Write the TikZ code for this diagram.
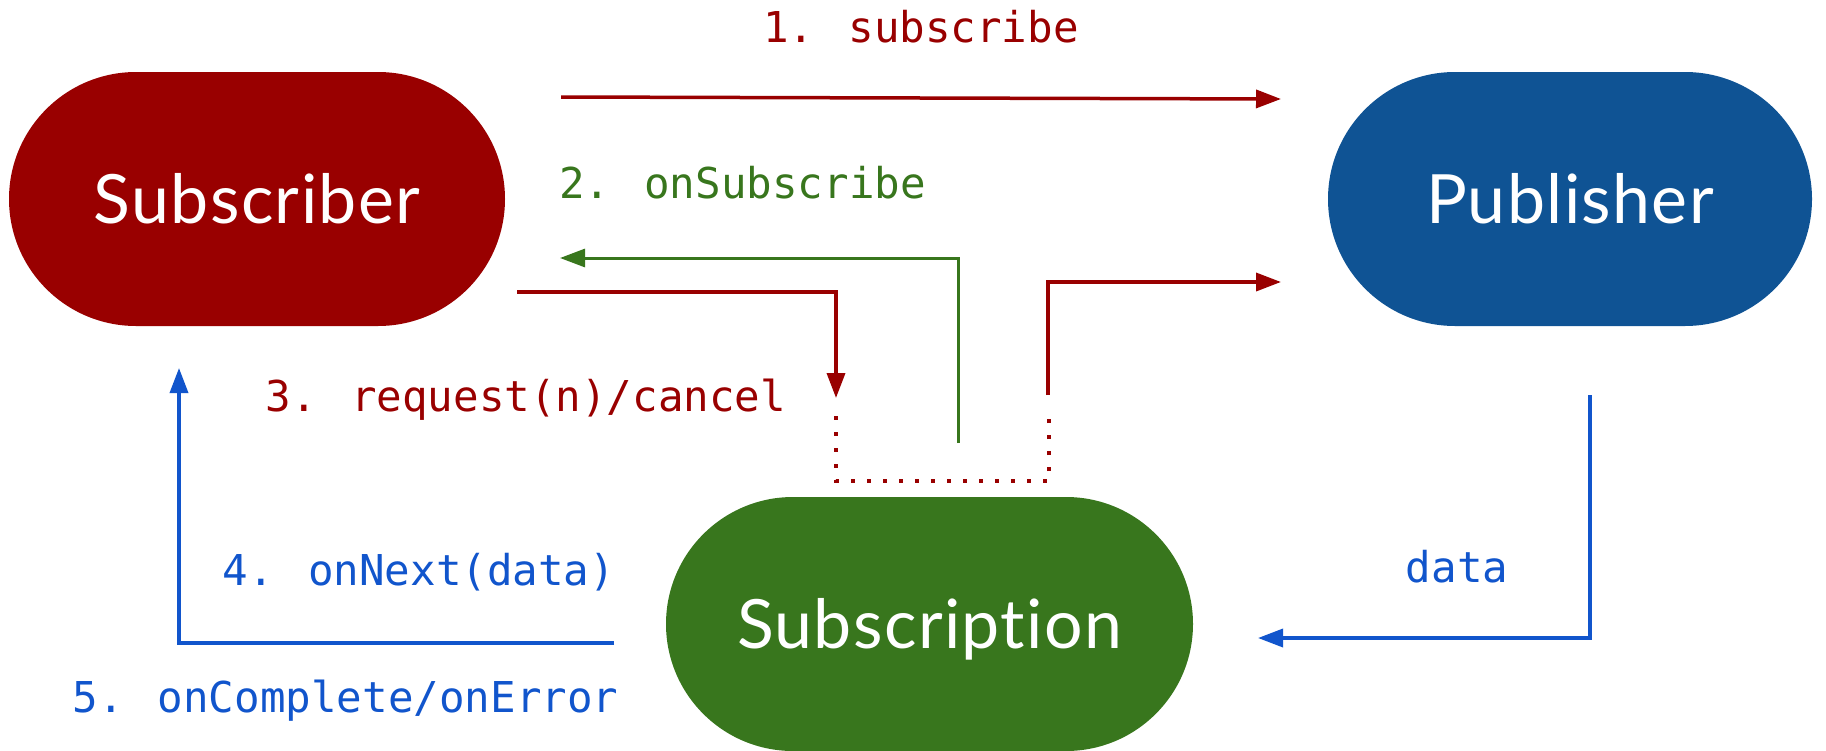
\documentclass[tikz,border=0pt]{standalone}
\usepackage{fontspec}
\setmainfont{Lato}[Ligatures={NoCommon,NoRequired,NoContextual}, LetterSpace=2]
\newfontfamily\codefont{DejaVu Sans Mono}
\usetikzlibrary{shapes.misc,arrows.meta}
\definecolor{subred}{HTML}{990000}
\definecolor{pubblue}{HTML}{0F5394}
\definecolor{subgreen}{HTML}{38761D}
\definecolor{flowblue}{HTML}{1155CC}
\tikzset{
  actor/.style={rounded rectangle, inner sep=0pt, minimum height=254pt,
    text=white, font=\fontsize{68}{72}\selectfont, text height=48pt, text depth=0pt},
  flow/.style={line width=3.5pt, -{Triangle[length=25pt,width=18pt]}},
  dotline/.style={line width=4pt, dash pattern=on 4pt off 12pt},
  caption/.style={font=\codefont\fontsize{42.5}{48}\selectfont, anchor=base, inner sep=0pt},
}
\begin{document}
\begin{tikzpicture}[x=1pt,y=-1pt]
\useasboundingbox (0,0) rectangle (1826,750);

% the three actors
\node[actor, fill=subred,   minimum width=496pt] (sub)  at (257,199)   {Subscriber};
\node[actor, fill=pubblue,  minimum width=484pt] (pub)  at (1570,199)  {Publisher};
\node[actor, fill=subgreen, minimum width=527pt] (subs) at (929.5,624) {Subscription};

% connector end points
\coordinate (s1a) at (561,97);    \coordinate (s1b) at (1281,99);
\coordinate (s2a) at (958,443);   \coordinate (s2k) at (958,258);   \coordinate (s2b) at (560,258);
\coordinate (s3a) at (517,292);   \coordinate (s3k) at (836,292);   \coordinate (s3b) at (836,398);
\coordinate (d1) at (836,416);    \coordinate (d2) at (836,481);
\coordinate (d3) at (1049,481);   \coordinate (d4) at (1049,414);
\coordinate (s3c) at (1048,395);  \coordinate (s3m) at (1048,282);  \coordinate (s3d) at (1281,282);
\coordinate (dta) at (1590,395);  \coordinate (dtk) at (1590,638);  \coordinate (dtb) at (1258,638);
\coordinate (s4a) at (614,643);   \coordinate (s4k) at (179,643);   \coordinate (s4b) at (179,368);

% 1. subscribe
\draw[flow, subred] (s1a) -- (s1b);
% 2. onSubscribe
\draw[flow, subgreen, line width=3pt] (s2a) -- (s2k) -- (s2b);
% 3. request(n)/cancel
\draw[flow, subred] (s3a) -- (s3k) -- (s3b);
\draw[dotline, subred] (d1) -- (d2) -- (d3) -- (d4);
\draw[flow, subred] (s3c) -- (s3m) -- (s3d);
% data
\draw[flow, flowblue] (dta) -- (dtk) -- (dtb);
% 4./5. signals back to the subscriber
\draw[flow, flowblue] (s4a) -- (s4k) -- (s4b);

% labels
\node[caption, text=subred]   (l1) at (921,42)    {1. subscribe};
\node[caption, text=subgreen] (l2) at (742.5,198) {2. onSubscribe};
\node[caption, text=subred]   (l3) at (526,411)   {3. request(n)/cancel};
\node[caption, text=flowblue] (l4) at (419,585)   {4. onNext(data)};
\node[caption, text=flowblue] (l5) at (345.5,712) {5. onComplete/onError};
\node[caption, text=flowblue] (l6) at (1457,582)  {data};
\end{tikzpicture}
\end{document}
